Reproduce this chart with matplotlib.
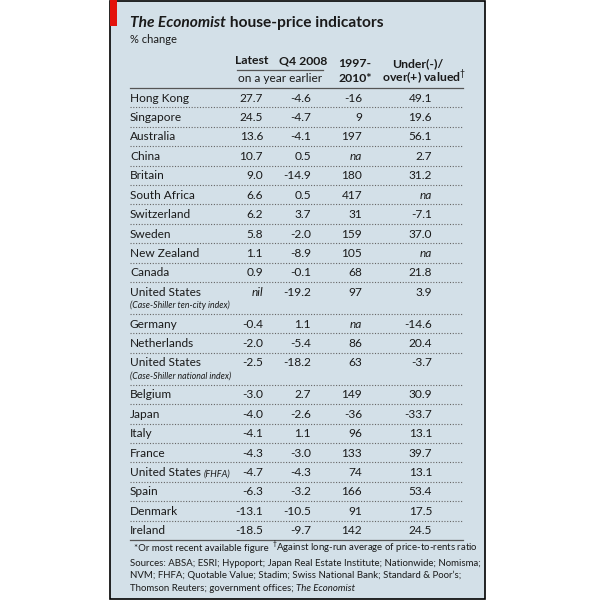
import matplotlib
matplotlib.use("Agg")
import matplotlib.pyplot as plt
from matplotlib.patches import Rectangle

# table data
countries = ["Hong Kong", "Singapore", "Australia", "China", "Britain", "South Africa",
             "Switzerland", "Sweden", "New Zealand", "Canada", "United States",
             "Germany", "Netherlands", "United States", "Belgium", "Japan", "Italy",
             "France", "United States", "Spain", "Denmark", "Ireland"]
notes = ["", "", "", "", "", "", "", "", "", "", "(Case-Shiller ten-city index)",
         "", "", "(Case-Shiller national index)", "", "", "", "", "(FHFA)", "", "", ""]
latest = ["27.7", "24.5", "13.6", "10.7", "9.0", "6.6", "6.2", "5.8", "1.1", "0.9", "nil",
          "-0.4", "-2.0", "-2.5", "-3.0", "-4.0", "-4.1", "-4.3", "-4.7", "-6.3", "-13.1", "-18.5"]
q4_2008 = ["-4.6", "-4.7", "-4.1", "0.5", "-14.9", "0.5", "3.7", "-2.0", "-8.9", "-0.1", "-19.2",
           "1.1", "-5.4", "-18.2", "2.7", "-2.6", "1.1", "-3.0", "-4.3", "-3.2", "-10.5", "-9.7"]
since_1997 = ["-16", "9", "197", "na", "180", "417", "31", "159", "105", "68", "97",
              "na", "86", "63", "149", "-36", "96", "133", "74", "166", "91", "142"]
valuation = ["49.1", "19.6", "56.1", "2.7", "31.2", "na", "-7.1", "37.0", "na", "21.8", "3.9",
             "-14.6", "20.4", "-3.7", "30.9", "-33.7", "13.1", "39.7", "13.1", "53.4", "17.5", "24.5"]

title_italic = "The Economist"
title_rest = " house-price indicators"
subtitle = "% change"
footnote1 = "*Or most recent available figure"
footnote2 = "$^{\\dagger}$Against long-run average of price-to-rents ratio"
sources = ["Sources: ABSA; ESRI; Hypoport; Japan Real Estate Institute; Nationwide; Nomisma;",
           "NVM; FHFA; Quotable Value; Stadim; Swiss National Bank; Standard & Poor\u2019s;",
           "Thomson Reuters; government offices; "]

plt.rcParams["font.family"] = ["Lato", "DejaVu Sans"]
plt.rcParams["mathtext.fontset"] = "custom"
plt.rcParams["mathtext.rm"] = "Lato"

BG = "#d3e0e8"
TXT = "#1a1a1a"
RED = "#e3120b"

W, H = 595, 601
fig = plt.figure(figsize=(W / 100, H / 100), dpi=100)
ax = fig.add_axes([0, 0, 1, 1])
ax.set_xlim(0, W)
ax.set_ylim(H, 0)
ax.axis("off")

# panel
ax.add_patch(Rectangle((109.5, 0.5), 375.5, 598.5, facecolor=BG, edgecolor="black", lw=1.2))
ax.add_patch(Rectangle((110, 0), 7, 26, facecolor=RED, edgecolor="none"))

fs = 8.6
# title
t = ax.text(130, 27, title_italic, fontsize=11.2, fontweight="bold", style="italic",
            color=TXT, va="baseline")
fig.canvas.draw()
bb = t.get_window_extent()
ax.text(130 + bb.width, 27, title_rest, fontsize=11.2, fontweight="bold", color=TXT, va="baseline")
ax.text(130, 43, subtitle, fontsize=8, color=TXT, va="baseline")

# headers
hb = dict(fontsize=fs + 0.2, fontweight="bold", color=TXT, va="baseline", ha="center")
ax.text(252, 64, "Latest", **hb)
ax.text(303, 64, "Q4 2008", **hb)
ax.plot([237, 323], [70, 70], color="#555555", lw=0.9)
ax.text(280, 82, "on a year earlier", fontsize=fs, color=TXT, va="baseline", ha="center")
ax.text(355, 67, "1997-", **hb)
ax.text(355, 82, "2010*", **hb)
ax.text(418, 67, "Under(-)/", **hb)
ax.text(424, 82, "over(+) valued$^{\\dagger}$", **hb)
ax.plot([130, 463], [88, 88], color="#555555", lw=0.9)

# rows
x_cols = [263, 311, 362, 432]
y = 88
for i, name in enumerate(countries):
    tall = notes[i] != "" and notes[i] != "(FHFA)"
    h = 32 if tall else 19.4
    yc = y + 9.7
    nt = ax.text(130, yc + 4, name, fontsize=fs, color=TXT, va="baseline")
    if notes[i] == "(FHFA)":
        fig.canvas.draw()
        nb = nt.get_window_extent()
        ax.text(130 + nb.width + 3, yc + 4, notes[i], fontsize=6.6, style="italic",
                color=TXT, va="baseline")
    elif tall:
        ax.text(130, yc + 16, notes[i], fontsize=6.3, style="italic", color=TXT,
                va="baseline")
    for xc, col in zip(x_cols, [latest, q4_2008, since_1997, valuation]):
        v = col[i]
        it = v in ("na", "nil")
        ax.text(xc, yc + 4, v, fontsize=fs, color=TXT, va="baseline", ha="right",
                style="italic" if it else "normal")
    y += h
    if i < len(countries) - 1:
        ax.plot([130, 463], [y, y], color="#666666", lw=0.8, ls=(0, (1, 1.5)))
    else:
        ax.plot([130, 463], [y, y], color="#555555", lw=0.9)

# footnotes
fn = dict(fontsize=6.9, color=TXT, va="baseline")
ax.text(134, 551, footnote1, **fn)
ax.text(272, 551, footnote2, **fn)
for k, line in enumerate(sources):
    s = ax.text(130, 566 + 12.5 * k, line, **fn)
fig.canvas.draw()
sb = s.get_window_extent()
ax.text(130 + sb.width, 566 + 25, "The Economist", style="italic", **fn)

fig.savefig("out.png", dpi=100, facecolor="white")
